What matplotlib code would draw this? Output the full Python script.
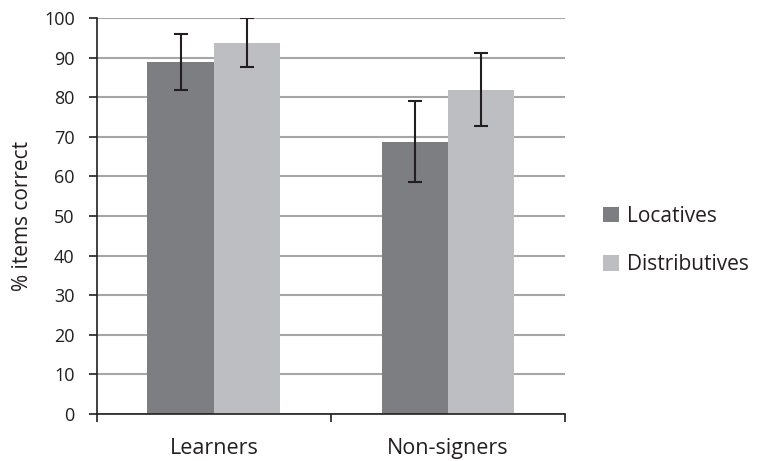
import numpy as np
import matplotlib

matplotlib.use("Agg")
import matplotlib.pyplot as plt

plt.rcParams["font.family"] = ["Open Sans", "DejaVu Sans"]

groups = ["Learners", "Non-signers"]
series = ["Locatives", "Distributives"]
locatives = [88.8, 68.8]
distributives = [93.7, 81.9]
loc_err = [7.1, 10.3]
dist_err = [6.2, 9.3]
yticks = list(range(0, 101, 10))

colors = ["#7d7e82", "#bdbec2"]
ink = "#231f20"

fig = plt.figure(figsize=(7.63, 4.61), dpi=100)
ax = fig.add_axes([0.127, 0.102, 0.6135, 0.859])

x = np.arange(len(groups))
w = 0.284
ax.bar(x - w / 2, locatives, w, color=colors[0], label=series[0], zorder=2)
ax.bar(x + w / 2, distributives, w, color=colors[1], label=series[1], zorder=2)
ax.errorbar(x - w / 2, locatives, yerr=loc_err, fmt="none", ecolor=ink,
            elinewidth=1.5, capsize=5, capthick=1.5, zorder=3)
ax.errorbar(x + w / 2, distributives, yerr=dist_err, fmt="none", ecolor=ink,
            elinewidth=1.5, capsize=5, capthick=1.5, zorder=3)

ax.set_xlim(-0.5, len(groups) - 0.5)
ax.set_ylim(0, 100)
ax.set_yticks(yticks)
ax.yaxis.grid(True, color="#a6a6a6", linewidth=1.5, zorder=0)
ax.set_axisbelow(True)

ax.set_xticks(x)
ax.set_xticklabels(groups, fontsize=15.5, color=ink)
ax.tick_params(axis="x", which="major", length=0, pad=17)
ax.set_xticks(np.arange(-0.5, len(groups), 1.0), minor=True)
ax.tick_params(axis="x", which="minor", length=6, width=1.2, color=ink)
ax.tick_params(axis="y", length=6, width=1.2, color=ink, labelsize=13,
               labelcolor=ink, pad=10)

for s in ["top", "right"]:
    ax.spines[s].set_visible(False)
for s in ["left", "bottom"]:
    ax.spines[s].set_color(ink)
    ax.spines[s].set_linewidth(1.2)

ax.set_ylabel("% items correct", fontsize=15, color=ink, labelpad=8)

fig.legend(loc="center left", bbox_to_anchor=(0.766, 0.478), frameon=False,
           fontsize=15, handlelength=0.75, handleheight=0.75, labelspacing=1.3,
           handletextpad=0.4, labelcolor=ink)

fig.savefig("out.png", dpi=100)
